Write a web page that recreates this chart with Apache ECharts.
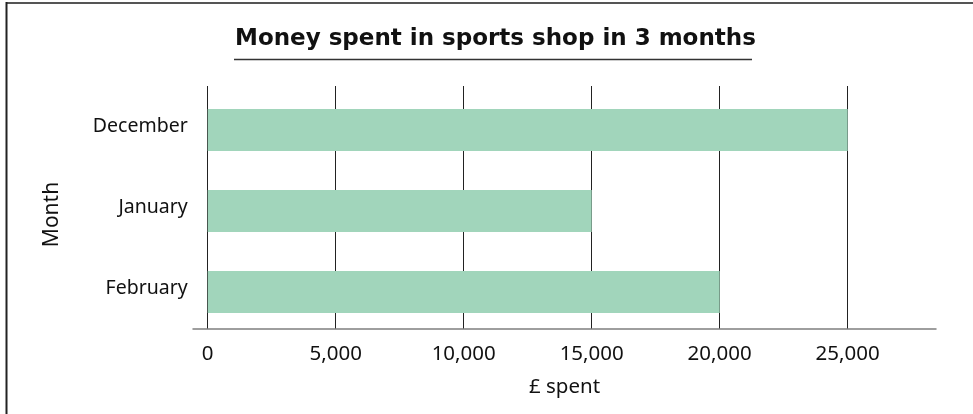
<!DOCTYPE html>
<html>
<head>
<meta charset="utf-8">
<title>Money spent in sports shop in 3 months</title>
<script src="https://cdn.jsdelivr.net/npm/echarts@6/dist/echarts.min.js"></script>
<style>
  html, body { margin: 0; padding: 0; background: #ffffff; }
  #chart { width: 973px; height: 414px; }
</style>
</head>
<body>
<div id="chart"></div>
<script>
// Months shown top to bottom and the amount spent in each (£)
const months = ['December', 'January', 'February'];
const spent = [25000, 15000, 20000];
// Value axis
const axisMax = 28450;
const tickStep = 5000;

const FONT = 'Noto Sans';
const TITLE_FONT = 'DejaVu Sans';
const fmt = v => String(v).replace(/\B(?=(\d{3})+(?!\d))/g, ',');

const chart = echarts.init(document.getElementById('chart'), null, { renderer: 'canvas' });

chart.setOption({
  backgroundColor: '#ffffff',
  animation: false,
  title: {
    text: 'Money spent in sports shop in 3 months',
    left: 235,
    top: 28,
    padding: 0,
    textStyle: { fontFamily: TITLE_FONT, fontSize: 23, fontWeight: 'bold', color: '#111111' }
  },
  graphic: [
    // title underline
    { type: 'line', shape: { x1: 234, y1: 59.5, x2: 752, y2: 59.5 },
      style: { stroke: '#333333', lineWidth: 1.5 }, silent: true },
    // frame edges
    { type: 'line', shape: { x1: 6, y1: 3, x2: 973, y2: 3 },
      style: { stroke: '#555555', lineWidth: 2 }, silent: true },
    { type: 'line', shape: { x1: 6.5, y1: 2, x2: 6.5, y2: 414 },
      style: { stroke: '#222222', lineWidth: 2 }, silent: true }
  ],
  grid: [
    // gridlines, tick labels and month labels
    { left: 207.7, top: 86, width: 728.3, height: 243 },
    // bars
    { left: 207.7, top: 89.5, width: 728.3, height: 243 },
    // baseline of the value axis
    { left: 193, top: 86, width: 743, height: 243 }
  ],
  xAxis: [
    {
      gridIndex: 0, type: 'value', min: 0, max: axisMax, interval: tickStep,
      axisLine: { show: false }, axisTick: { show: false },
      splitLine: { show: true, showMaxLine: false, lineStyle: { color: '#222222', width: 1 } },
      axisLabel: {
        showMaxLabel: false, margin: 15, formatter: fmt,
        fontFamily: FONT, fontSize: 20.5, color: '#111111'
      }
    },
    {
      gridIndex: 1, type: 'value', min: 0, max: axisMax, show: false
    },
    {
      gridIndex: 2, type: 'value', min: 0, max: 1,
      axisLine: { show: true, lineStyle: { color: '#7f7f7f', width: 1.5 } },
      axisTick: { show: false }, axisLabel: { show: false }, splitLine: { show: false },
      name: '£ spent', nameLocation: 'middle', nameGap: 48,
      nameTextStyle: { fontFamily: FONT, fontSize: 20.5, color: '#111111' }
    }
  ],
  yAxis: [
    {
      gridIndex: 0, type: 'category', data: months, inverse: true,
      axisLine: { show: false }, axisTick: { show: false }, splitLine: { show: false },
      axisLabel: {
        margin: 20, fontFamily: FONT, fontSize: 19.5, color: '#111111',
        padding: [0, 0, 10, 0]
      },
      name: 'Month', nameLocation: 'middle', nameGap: 145, nameRotate: 90,
      nameTextStyle: { fontFamily: FONT, fontSize: 21, color: '#111111', padding: [0, 14, 0, 0] }
    },
    {
      gridIndex: 1, type: 'category', data: months, inverse: true, show: false
    },
    {
      gridIndex: 2, type: 'value', show: false
    }
  ],
  series: [
    {
      type: 'bar',
      xAxisIndex: 1,
      yAxisIndex: 1,
      data: spent,
      barWidth: 42,
      itemStyle: { color: '#a1d5bb' },
      z: 3
    }
  ]
});
</script>
</body>
</html>
